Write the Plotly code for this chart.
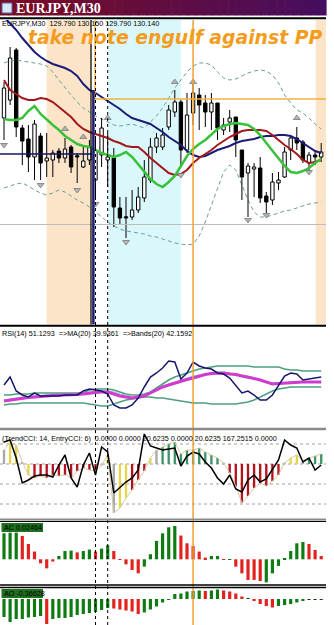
import plotly.graph_objects as go

# ---------------- data ----------------
OPEN = [130.49,130.67,131.17,130.39,130.28,130.10,130.31,130.06,130.07,130.16,130.09,130.20,130.11,130.00,130.07,129.87,130.12,130.07,130.09,129.59,129.50,129.50,129.57,129.69,129.87,130.20,130.20,130.40,130.55,130.65,130.17,130.54,130.72,130.64,130.55,130.64,130.37,130.45,130.50,130.17,129.94,129.98,129.99,129.71,129.67,129.84,129.90,130.17,130.29,130.25,130.04,130.12,130.10]
HIGH = [130.85,131.20,131.19,130.42,130.42,130.47,130.34,130.34,130.17,130.19,130.29,130.22,130.14,130.20,130.27,130.30,130.49,130.34,130.19,129.70,129.70,129.77,129.80,130.07,130.29,130.34,130.39,130.62,130.77,130.67,130.74,130.84,130.79,130.72,130.74,130.64,130.49,130.57,130.50,130.17,130.04,130.04,130.10,129.75,129.94,129.95,130.20,130.32,130.40,130.27,130.15,130.17,130.24]
LOW = [130.27,130.62,130.30,130.02,129.95,129.87,129.87,129.90,129.90,130.04,130.04,129.94,129.84,129.99,130.02,129.67,130.00,129.80,129.40,129.42,129.29,129.47,129.54,129.65,129.84,130.14,130.17,130.37,130.50,130.02,130.14,130.42,130.37,130.40,130.37,130.27,130.32,130.35,130.10,129.67,129.50,129.70,129.64,129.54,129.62,129.77,129.89,130.07,130.17,130.04,129.95,130.02,130.05]
CLOSE = [130.79,131.09,130.40,130.26,130.10,130.43,130.04,130.09,130.14,130.09,130.18,130.00,130.10,130.06,130.20,130.17,130.39,130.10,129.60,129.49,129.49,129.57,129.70,129.90,130.20,130.29,130.32,130.57,130.65,130.17,130.52,130.74,130.62,130.55,130.64,130.39,130.42,130.49,130.27,129.90,130.01,130.00,129.69,129.65,129.85,129.87,130.15,130.29,130.24,130.07,130.12,130.10,130.15]

MA_NAVY = [131.50,131.44,131.37,131.29,131.22,131.15,131.10,131.06,131.03,131.01,130.99,130.96,130.91,130.83,130.77,130.74,130.70,130.66,130.62,130.58,130.53,130.49,130.47,130.45,130.43,130.39,130.35,130.30,130.26,130.22,130.16,130.12,130.10,130.11,130.14,130.17,130.19,130.21,130.24,130.26,130.27,130.28,130.30,130.31,130.31,130.32,130.32,130.31,130.28,130.24,130.20,130.16,130.14]
MA_RED = [130.87,130.77,130.73,130.69,130.67,130.67,130.69,130.68,130.65,130.60,130.55,130.50,130.43,130.38,130.35,130.33,130.31,130.29,130.26,130.24,130.21,130.20,130.20,130.15,130.09,130.04,129.99,129.94,129.92,129.93,129.97,130.04,130.09,130.13,130.17,130.22,130.26,130.30,130.33,130.36,130.37,130.37,130.37,130.36,130.32,130.27,130.22,130.18,130.13,130.07,130.04,130.05,130.07]
MA_GREEN = [130.48,130.47,130.47,130.49,130.56,130.61,130.53,130.47,130.42,130.37,130.31,130.27,130.23,130.21,130.20,130.17,130.14,130.12,130.10,130.12,130.15,130.10,130.03,129.95,129.88,129.83,129.80,129.85,129.91,130.01,130.11,130.18,130.23,130.27,130.33,130.38,130.41,130.43,130.44,130.43,130.42,130.38,130.32,130.24,130.16,130.08,130.01,129.95,129.94,129.96,129.99,130.04,130.08]
BB_UPPER = [131.04,131.06,131.07,131.06,131.05,131.04,131.03,131.01,130.95,130.87,130.79,130.72,130.65,130.59,130.55,130.51,130.48,130.45,130.42,130.41,130.42,130.43,130.41,130.39,130.45,130.51,130.59,130.69,130.79,130.87,130.95,131.01,131.04,131.04,131.02,130.95,130.89,130.87,130.88,130.91,130.94,130.96,130.97,130.96,130.92,130.84,130.72,130.64,130.57,130.54,130.49,130.43,130.38]
BB_LOWER = [129.79,129.81,129.83,129.84,129.81,129.77,129.74,129.72,129.74,129.77,129.75,129.71,129.67,129.64,129.60,129.55,129.50,129.45,129.41,129.38,129.36,129.35,129.34,129.33,129.31,129.30,129.28,129.26,129.24,129.23,129.22,129.23,129.31,129.45,129.62,129.79,129.95,130.02,129.97,129.82,129.67,129.55,129.50,129.50,129.52,129.54,129.56,129.57,129.59,129.61,129.63,129.64,129.65]

FRACTAL_UP_BAR = [10, 13, 17, 28, 31, 48]
FRACTAL_UP_PRICE = [130.38, 130.30, 130.49, 130.85, 130.85, 130.49]
FRACTAL_DN_BAR = [0, 6, 12, 15, 20, 29, 40, 43, 50]
FRACTAL_DN_PRICE = [130.22, 129.82, 129.77, 129.63, 129.25, 129.92, 129.47, 129.52, 129.95]

ORANGE_LEVEL = 130.68
NAVY_LEVEL = 130.13
GRAY_LEVEL = 129.425

RSI = [43,51,37,33,31,35,32,32,32,32,33,33,33,37,39,38,37,34,23,20,20,23,30,41,51,55,60,67,66,49,55,66,62,60,59,55,54,50,43,35,37,33,28,28,33,43,52,55,54,48,49,50,51]
RSI_MA = [27,28,29,30,30.5,31,31.5,32,33,33,33,33,33.5,34,35,35.5,36,36,34,32,31,30,31,32,35,38,41,43,45,47,48.5,50,52,53.5,54.5,55,55,54,53.5,52,51,49.5,48,46,44,44.5,45,45.5,46,46,46,46,46]
RSI_BAND_UP = [33,33,34,34,34,35,35,35,35,35,35,35,35,35,38,39,39,39,38,36,34,33,33,34,36,40,44,48,51,53,55,57,59,60,61,62,62,62,62,62,62,61,61,61,61,61,59,58,58,57,57,57,57]
RSI_BAND_MID = [28,29,30,31,31,32,32,33,33,34,34,34,34,35,36,37,37,37,36,34,33,32,32,33,35,38,41,44,46,48,50,52,53,54,55,56,56,55,54,53,52,50,48,46,45,45,45,46,46,46,46,46,46]
RSI_BAND_LO = [23,24,24,25,25,25,25,25,25,25,25,25,25,25,24,23,22,22,24,26,28,29,30,31,31,30,30,29,28,27,26,25,25,25,24,24,24,24,24,25,26,28,31,34,37,39,40,41,41,41,41,41,41]

CCI_TREND = [70,110,95,10,-55,-70,-60,-70,-55,-60,-55,-70,-35,-20,-30,-35,-5,45,-245,-220,-170,-130,-80,-35,30,70,85,100,110,50,70,70,80,60,45,30,5,-45,-110,-195,-160,-120,-95,-110,-85,-55,5,30,45,15,30,40,50]
CCI_TREND_STATE = "NYYNY" + "RRRRRRRRRRR" + "NYNYY" + "RRR" + "YN" + "GGGGGGGGGG" + "N" + "RRRRRRRRR" + "NYYN" + "GGG"
CCI_ENTRY = [110,120,30,-95,-80,-60,-55,-55,-65,-5,45,-70,-115,-5,55,-55,85,60,-145,-115,-90,-70,-30,150,90,80,70,75,80,-10,40,60,50,10,-20,-70,-100,-55,-125,-140,-80,-55,-90,-75,-30,20,120,95,80,10,30,-30,-5]
CCI_LEVELS = [100, 0, -100, -200]

AC = [0.195,0.200,0.200,0.175,0.115,0.058,-0.030,-0.068,-0.017,0.025,0.062,0.065,0.052,0.062,0.073,0.058,0.080,0.105,0.062,-0.005,-0.038,-0.080,-0.105,-0.055,0.038,0.138,0.195,0.240,0.250,0.178,0.120,0.100,0.058,0.013,0.025,0.025,0.002,-0.005,-0.055,-0.105,-0.155,-0.155,-0.163,-0.173,-0.105,-0.050,0.008,0.062,0.120,0.130,0.115,0.070,0.0246]
AC_STATE = "GGG" + "RRRRRR" + "GGG" + "R" + "GG" + "R" + "GG" + "RRRRR" + "GGGGGG" + "RRRRR" + "GG" + "R" + "G" + "RRRRR" + "GGGGGGG" + "RRR"
AO = [-0.36,-0.46,-0.40,-0.40,-0.37,-0.36,-0.34,-0.50,-0.40,-0.38,-0.38,-0.36,-0.32,-0.30,-0.28,-0.26,-0.22,-0.18,-0.19,-0.21,-0.23,-0.25,-0.30,-0.27,-0.21,-0.15,-0.07,-0.02,0.10,0.11,0.15,0.16,0.17,0.16,0.17,0.19,0.17,0.15,0.11,0.05,0.02,-0.04,-0.10,-0.14,-0.17,-0.14,-0.12,-0.10,-0.07,-0.04,-0.02,-0.02,-0.02]
AO_STATE = "GGGGGGG" + "R" + "GGGGGGGGGG" + "RRRRR" + "GGGGG" + "GGGGG" + "R" + "GG" + "RRRR" + "D" + "RRRR" + "GGGGG" + "DDD"

HEADER = "EURJPY,M30\u00a0\u00a0129.790 130.150 129.790 130.140"
RSI_LABEL = "RSI(14) 51.1293\u00a0\u00a0=>MA(20) 39.9361\u00a0\u00a0=>Bands(20) 42.1592"
CCI_LABEL = "(TrendCCI: 14, EntryCCI: 6)\u00a0\u00a00.0000 0.0000 20.6235 0.0000 20.6235 167.2515 0.0000"
AC_LABEL = "AC 0.02464"
AO_LABEL = "AO -0.36628"
NOTE = "take note engulf against PP"
WINDOW_TITLE = "EURJPY,M30"

# ---------------- geometry ----------------
W, H = 334, 625
RIGHT_PX = 326
BAR0_PX, STEP_PX = 4.0, 6.1


def bar_at(xpx):
    return (xpx - BAR0_PX) / STEP_PX


def yp(ypx):
    return 1 - ypx / H


def xp(xpx):
    return xpx / W


X_RANGE = [bar_at(0), bar_at(RIGHT_PX)]
X = list(range(len(OPEN)))

MAIN_RANGE = [128.425, 131.47]
RSI_RANGE = [3, 101]
CCI_RANGE = [-270, 167.5]
AC_RANGE = [-0.1853, 0.2798]
AO_RANGE = [-0.52, 0.22]

PANE = {"y": (20, 324.5), "y2": (327, 425), "y3": (430.5, 518), "y4": (522, 584), "y5": (588, 625)}

GREEN_BAR = "#0E7C12"
RED_BAR = "#E3221E"
CCI_COL = {"N": "#A8A8A8", "Y": "#E6D44A", "R": "#B3121E", "G": "#3C9468"}
AC_COL = {"G": GREEN_BAR, "R": RED_BAR, "D": "#114411"}

fig = go.Figure()

# ---- main pane ----
for band in (BB_UPPER, BB_LOWER):
    fig.add_trace(go.Scatter(x=X, y=band, mode="lines", yaxis="y",
                             line=dict(color="#6A9E9A", width=1, dash="4px,3px")))

wx, wy = [], []
for i, (o, h, l, c) in enumerate(zip(OPEN, HIGH, LOW, CLOSE)):
    top, bot = max(o, c), min(o, c)
    if h > top:
        wx += [i, i, None]
        wy += [top, h, None]
    if l < bot:
        wx += [i, i, None]
        wy += [l, bot, None]
fig.add_trace(go.Scatter(x=wx, y=wy, mode="lines", yaxis="y",
                         line=dict(color="black", width=1)))
fig.add_trace(go.Bar(
    x=X, base=[min(o, c) for o, c in zip(OPEN, CLOSE)],
    y=[max(abs(c - o), 0.012) for o, c in zip(OPEN, CLOSE)],
    width=0.55, yaxis="y",
    marker=dict(color=["white" if c >= o else "black" for o, c in zip(OPEN, CLOSE)],
                line=dict(color="black", width=1))))

fig.add_trace(go.Scatter(x=X, y=MA_NAVY, mode="lines", yaxis="y", line=dict(color="#1C1C78", width=2)))
fig.add_trace(go.Scatter(x=X, y=MA_RED, mode="lines", yaxis="y", line=dict(color="#A3191B", width=2)))
fig.add_trace(go.Scatter(x=X, y=MA_GREEN, mode="lines", yaxis="y", line=dict(color="#38C23A", width=2.5)))

fig.add_trace(go.Scatter(x=FRACTAL_UP_BAR, y=FRACTAL_UP_PRICE, mode="markers", yaxis="y",
                         marker=dict(symbol="triangle-up", size=6, color="#B4B4B4",
                                     line=dict(color="#7A7A7A", width=0.8))))
fig.add_trace(go.Scatter(x=FRACTAL_DN_BAR, y=FRACTAL_DN_PRICE, mode="markers", yaxis="y",
                         marker=dict(symbol="triangle-down", size=6, color="#B4B4B4",
                                     line=dict(color="#7A7A7A", width=0.8))))

# ---- RSI pane ----
for band in (RSI_BAND_UP, RSI_BAND_LO):
    fig.add_trace(go.Scatter(x=X, y=band, mode="lines", yaxis="y2", line=dict(color="#4E9E7E", width=1.5)))
fig.add_trace(go.Scatter(x=X, y=RSI_BAND_MID, mode="lines", yaxis="y2", line=dict(color="#9DB3D0", width=1.2)))
fig.add_trace(go.Scatter(x=X, y=RSI_MA, mode="lines", yaxis="y2", line=dict(color="#CF3BCF", width=3)))
fig.add_trace(go.Scatter(x=X, y=RSI, mode="lines", yaxis="y2", line=dict(color="#16166E", width=1.5)))

# ---- CCI pane ----
fig.add_trace(go.Bar(x=X, y=CCI_TREND, width=0.38, yaxis="y3",
                     marker=dict(color=[CCI_COL[s] for s in CCI_TREND_STATE], line=dict(width=0))))
fig.add_trace(go.Scatter(x=X, y=CCI_TREND, mode="lines", yaxis="y3", line=dict(color="#D4CCA2", width=1)))
fig.add_trace(go.Scatter(x=X, y=CCI_ENTRY, mode="lines", yaxis="y3", line=dict(color="black", width=1.5)))

# ---- AC / AO panes ----
fig.add_trace(go.Bar(x=X, y=AC, width=0.52, yaxis="y4",
                     marker=dict(color=[AC_COL[s] for s in AC_STATE], line=dict(width=0))))
fig.add_trace(go.Bar(x=X, y=AO, width=0.52, yaxis="y5",
                     marker=dict(color=[AC_COL[s] for s in AO_STATE], line=dict(width=0))))

# ---------------- shapes ----------------
shapes = []
# session shading (main pane)
for x0, x1, col in [(7.0, 14.4, "#FCE4C9"), (51.1, X_RANGE[1], "#FCE4C9"), (17.1, 29.0, "#DAF8FC")]:
    shapes.append(dict(type="rect", xref="x", yref="y domain", x0=x0, x1=x1, y0=0, y1=1,
                       fillcolor=col, line=dict(width=0), layer="below"))
# horizontal objects
shapes.append(dict(type="line", xref="x", yref="y", x0=X_RANGE[0], x1=X_RANGE[1], y0=GRAY_LEVEL, y1=GRAY_LEVEL,
                   line=dict(color="#BDBDBD", width=1)))
shapes.append(dict(type="line", xref="x", yref="y", x0=X_RANGE[0], x1=bar_at(92), y0=NAVY_LEVEL, y1=NAVY_LEVEL,
                   line=dict(color="#16165E", width=1.5)))
shapes.append(dict(type="line", xref="x", yref="y", x0=bar_at(95), x1=X_RANGE[1], y0=ORANGE_LEVEL, y1=ORANGE_LEVEL,
                   line=dict(color="#F2B33D", width=1.5)))
shapes.append(dict(type="line", xref="x", yref="y", x0=bar_at(95), x1=bar_at(95), y0=ORANGE_LEVEL, y1=MAIN_RANGE[1],
                   line=dict(color="#F2B33D", width=1.5)))
# vertical objects
shapes.append(dict(type="line", xref="x", yref="y domain", x0=bar_at(91), x1=bar_at(91), y0=0, y1=1,
                   line=dict(color="black", width=1.2)))
shapes.append(dict(type="line", xref="x", yref="y", x0=bar_at(93.4), x1=bar_at(93.4), y0=MA_NAVY[14], y1=MAIN_RANGE[0],
                   line=dict(color="#1C1C78", width=2.5)))
for b in (15, 17):
    shapes.append(dict(type="line", xref="x", yref="paper", x0=b, x1=b, y0=0, y1=yp(20),
                       line=dict(color="black", width=1, dash="dot")))
shapes.append(dict(type="line", xref="x", yref="paper", x0=31, x1=31, y0=0, y1=yp(20),
                   line=dict(color="#F0A030", width=1.5)))
# CCI levels
for lv in CCI_LEVELS:
    shapes.append(dict(type="line", xref="x", yref="y3", x0=X_RANGE[0], x1=X_RANGE[1], y0=lv, y1=lv,
                       line=dict(color="#A0A0A0", width=1, dash="dot"), layer="below"))
# pane separators
for ypx, col, wd in [(18.3, "black", 2), (325.8, "black", 2), (429, "#8A8A8A", 2.5),
                     (519.5, "#8A8A8A", 2), (521.5, "black", 1), (585, "black", 1.3), (587.5, "black", 1.3)]:
    shapes.append(dict(type="line", xref="paper", yref="paper", x0=0, x1=xp(RIGHT_PX), y0=yp(ypx), y1=yp(ypx),
                       line=dict(color=col, width=wd)))
# title bar gradient
NSTRIP = 40
c0, c1 = (124, 12, 36), (70, 14, 94)
for k in range(NSTRIP):
    t = k / (NSTRIP - 1)
    col = "rgb(%d,%d,%d)" % tuple(round(a + (b - a) * t) for a, b in zip(c0, c1))
    shapes.append(dict(type="rect", xref="paper", yref="paper",
                       x0=xp(k * RIGHT_PX / NSTRIP), x1=xp((k + 1) * RIGHT_PX / NSTRIP + 0.6),
                       y0=yp(15.5), y1=1, fillcolor=col, line=dict(width=0)))
shapes.append(dict(type="rect", xref="paper", yref="paper", x0=xp(2), x1=xp(12), y0=yp(13), y1=yp(3),
                   fillcolor="#DCE7F5", line=dict(color="#4A6CB0", width=1)))
# indicator label boxes
for top in (523, 589):
    shapes.append(dict(type="rect", xref="paper", yref="paper", x0=xp(1.5), x1=xp(43), y0=yp(top + 9), y1=yp(top),
                       fillcolor="#1E6F1E", line=dict(width=0)))

# ---------------- annotations ----------------
small = dict(family="Liberation Sans", size=7.2, color="black")


def label(text, xpx, ypx, font, xanchor="left"):
    return dict(text=text, x=xp(xpx), y=yp(ypx), xref="paper", yref="paper", showarrow=False,
                xanchor=xanchor, yanchor="middle", font=font, borderpad=0)


annotations = [
    label("<b>" + WINDOW_TITLE + "</b>", 15, 8, dict(family="Liberation Serif", size=14, color="white")),
    label(HEADER, 1, 24, small),
    label("<b><i>" + NOTE + "</i></b>", 174.5, 37, dict(family="DejaVu Sans", size=18.8, color="#F39C1E"), "center"),
    label(RSI_LABEL, 1, 333, small),
    label(CCI_LABEL, 1, 438, small),
    label(AC_LABEL, 2.5, 527.5, small),
    label(AO_LABEL, 2.5, 593.5, small),
]


def yax(key, rng):
    top, bottom = PANE[key]
    return dict(domain=[yp(bottom), yp(top)], range=rng, visible=False, fixedrange=True, anchor="x")


fig.update_layout(
    width=W, height=H, autosize=False,
    margin=dict(l=0, r=0, t=0, b=0, pad=0),
    paper_bgcolor="white", plot_bgcolor="white",
    showlegend=False, barmode="overlay", hovermode=False,
    xaxis=dict(domain=[0, xp(RIGHT_PX)], range=X_RANGE, visible=False, fixedrange=True, anchor="y5"),
    yaxis=yax("y", MAIN_RANGE),
    yaxis2=yax("y2", RSI_RANGE),
    yaxis3=yax("y3", CCI_RANGE),
    yaxis4=yax("y4", AC_RANGE),
    yaxis5=yax("y5", AO_RANGE),
    shapes=shapes,
    annotations=annotations,
)

fig.write_html("out.html")
